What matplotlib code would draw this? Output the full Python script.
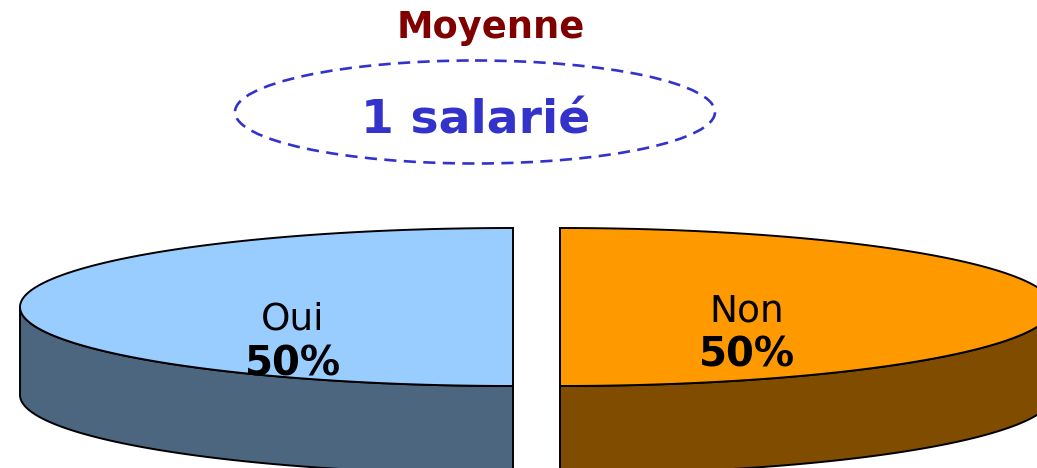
import numpy as np
import matplotlib
matplotlib.use('Agg')
import matplotlib.pyplot as plt
from matplotlib.patches import Ellipse, Polygon

# data
categories = ['Oui', 'Non']
shares = [50, 50]
top_colors = ['#99CCFF', '#FF9900']
side_colors = ['#4D6680', '#804D00']
title = 'Moyenne'
mean_label = '1 salarié'

# geometry of the flattened pie, in pixels
centers_x = [513, 560]
center_y = 307
rx, ry = 493, 79
depth = 88
label_pos = [(293, 330), (747, 321)]

fig = plt.figure(figsize=(10.37, 4.68), dpi=100)
ax = fig.add_axes([0, 0, 1, 1])
ax.set_xlim(0, 1037)
ax.set_ylim(468, 0)
ax.axis('off')

total = sum(shares)
for i, share in enumerate(shares):
    # first slice goes counter clockwise from the top, second one clockwise
    sweep = 360.0 * share / total
    if i == 0:
        t = np.radians(np.linspace(90, 90 + sweep, 200))
    else:
        t = np.radians(np.linspace(90, 90 - sweep, 200))
    x = centers_x[i] + rx * np.cos(t)
    y = center_y - ry * np.sin(t)

    # side wall, only the lower half of the rim
    low = y >= center_y - 0.01
    xs = x[low]
    ys = y[low]
    wall = np.vstack([np.column_stack([xs, ys]),
                      np.column_stack([xs[::-1], ys[::-1] + depth])])
    ax.add_patch(Polygon(wall, closed=True, facecolor=side_colors[i],
                         edgecolor='black', linewidth=1.4, zorder=2))

    # top face
    top = np.column_stack([x, y])
    ax.add_patch(Polygon(top, closed=True, facecolor=top_colors[i],
                         edgecolor='black', linewidth=1.4, zorder=3))

    ax.text(label_pos[i][0], label_pos[i][1], categories[i], fontsize=27,
            ha='center', va='baseline', color='black', zorder=4)
    ax.text(label_pos[i][0], label_pos[i][1] + 45.5, f'{shares[i]}%', fontsize=29,
            fontweight='bold', ha='center', va='baseline', color='black', zorder=4)

ax.text(490.5, 38.5, title, fontsize=26.5, fontweight='bold', color='#800000',
        ha='center', va='baseline')
ax.add_patch(Ellipse((475, 112), 480, 103, fill=False, edgecolor='#3333CC',
                     linewidth=1.9, linestyle=(0, (4.6, 2.8))))
ax.text(475.5, 134, mean_label, fontsize=34, fontweight='bold', color='#3333CC',
        ha='center', va='baseline')

fig.savefig('out.png', dpi=100)
